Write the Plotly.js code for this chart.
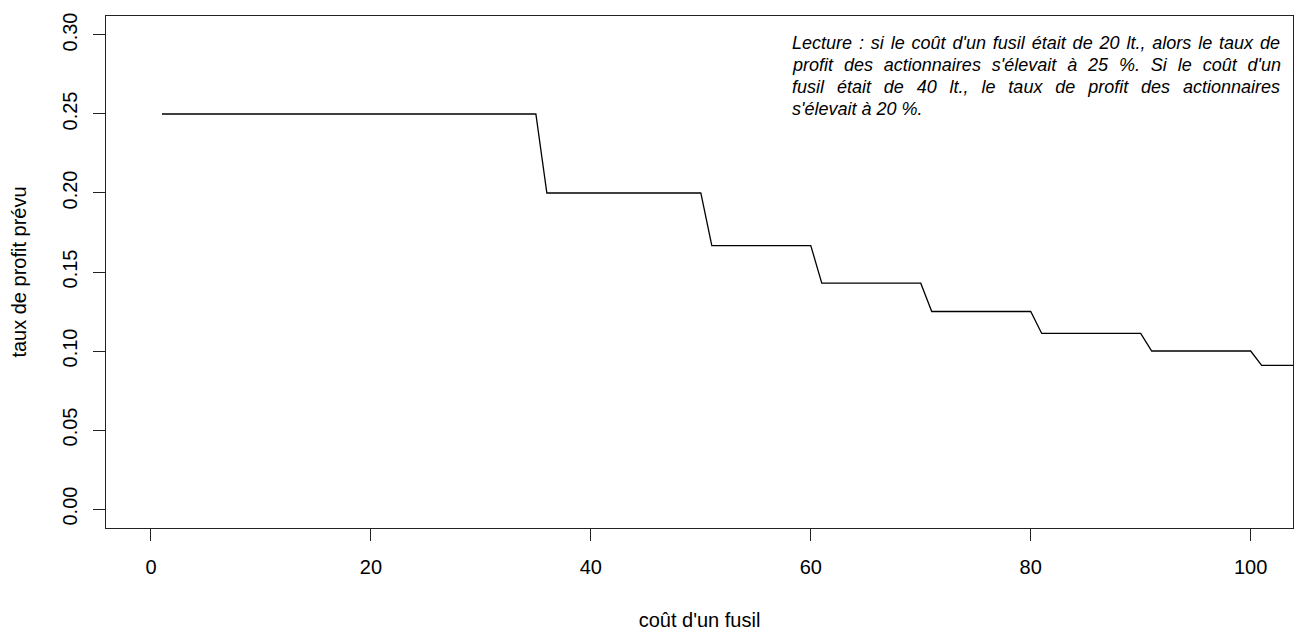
<!DOCTYPE html>
<html>
<head>
<meta charset="utf-8">
<script src="https://cdn.plot.ly/plotly-3.0.1.min.js"></script>
<style>
html,body{margin:0;padding:0;background:#fff;}
#chart{width:1294px;height:631px;}
</style>
</head>
<body>
<div id="chart"></div>
<script>
// Step levels of expected profit rate vs. cost of a musket
const levelStart = [1, 36, 51, 61, 71, 81, 91, 101];
const levelEnd   = [35, 50, 60, 70, 80, 90, 100, 104];
const levelValue = [0.25, 0.20, 0.1667, 0.1429, 0.125, 0.1111, 0.10, 0.0909];
const xTicks = [0, 20, 40, 60, 80, 100];
const yTicks = [0.00, 0.05, 0.10, 0.15, 0.20, 0.25, 0.30];
const yTickLabels = ["0.00", "0.05", "0.10", "0.15", "0.20", "0.25", "0.30"];
const noteLines = [
  "Lecture : si le coût d'un fusil était de 20 lt., alors le taux de",
  "profit des actionnaires s'élevait à 25 %. Si le coût d'un",
  "fusil était de 40 lt., le taux de profit des actionnaires",
  "s'élevait à 20 %."
];

const xs = [], ys = [];
for (let i = 0; i < levelStart.length; i++) {
  xs.push(levelStart[i], levelEnd[i]);
  ys.push(levelValue[i], levelValue[i]);
}

const font = "Liberation Sans, Arial, sans-serif";
const W = 1294, H = 631;
const m = {l: 106, r: 1, t: 16, b: 103};

const noteLeftPx = 790, noteRightPx = 1278, noteTopPx = 31, noteLineH = 22;
const annotations = noteLines.map((t, i) => ({
  text: t,
  xref: 'paper', yref: 'paper',
  x: (noteLeftPx - m.l) / (W - m.l - m.r),
  y: 1 - (noteTopPx + i * noteLineH - m.t) / (H - m.t - m.b),
  xanchor: 'left', yanchor: 'top',
  showarrow: false,
  font: {family: font, size: 18, color: '#000', style: 'italic'},
  align: 'left'
}));

const trace = {
  x: xs, y: ys, type: 'scatter', mode: 'lines',
  line: {color: '#000', width: 1.3},
  hoverinfo: 'skip'
};

const axisCol = '#222';
const layout = {
  width: W, height: H,
  margin: m,
  paper_bgcolor: '#fff', plot_bgcolor: '#fff',
  showlegend: false,
  font: {family: font, size: 20, color: '#000'},
  xaxis: {
    range: [-4.09, 103.85],
    tickmode: 'array', tickvals: xTicks, ticktext: xTicks.map(String),
    ticks: 'outside', ticklen: 12, tickwidth: 1, tickcolor: axisCol,
    showline: true, linecolor: axisCol, linewidth: 1, mirror: true,
    showgrid: false, zeroline: false,
    tickfont: {family: font, size: 20, color: '#000'},
    ticklabelstandoff: 9,
    title: {text: "coût d'un fusil", font: {family: font, size: 20, color: '#000'}, standoff: 40}
  },
  yaxis: {
    range: [-0.012, 0.312],
    tickmode: 'array', tickvals: yTicks, ticktext: yTickLabels,
    ticks: 'outside', ticklen: 12, tickwidth: 1, tickcolor: axisCol,
    tickangle: -90,
    showline: true, linecolor: axisCol, linewidth: 1, mirror: true,
    showgrid: false, zeroline: false,
    tickfont: {family: font, size: 20, color: '#000'},
    ticklabelstandoff: 8,
    title: {text: "taux de profit prévu", font: {family: font, size: 20, color: '#000'}, standoff: 27}
  },
  annotations: annotations
};

Plotly.newPlot('chart', [trace], layout, {displayModeBar: false, staticPlot: true}).then(() => {
  // justify the first three note lines like the original paragraph
  const texts = document.querySelectorAll('.annotation-text');
  const target = noteRightPx - noteLeftPx;
  texts.forEach((el, i) => {
    if (i >= noteLines.length - 1) return;
    const w = el.getComputedTextLength();
    const gaps = (noteLines[i].match(/ /g) || []).length;
    if (gaps > 0 && w < target) {
      el.setAttribute('word-spacing', ((target - w) / gaps).toFixed(2));
    }
  });
});
</script>
</body>
</html>
